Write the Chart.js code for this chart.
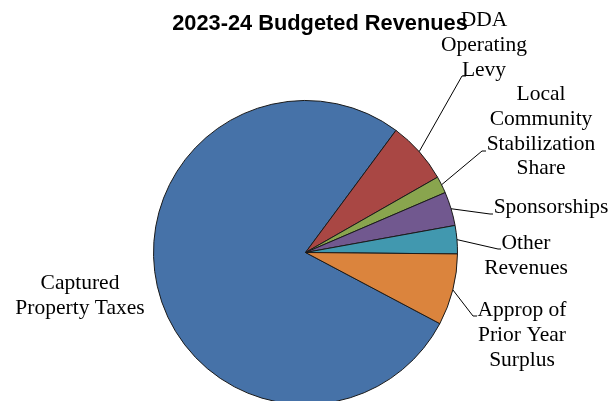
<!DOCTYPE html>
<html>
<head>
<meta charset="utf-8">
<script src="https://cdn.jsdelivr.net/npm/chart.js@4.4.1/dist/chart.umd.min.js"></script>
<style>
  html, body { margin: 0; padding: 0; background: #fff; overflow: hidden; }
  #wrap { width: 615px; height: 401px; overflow: hidden; }
</style>
</head>
<body>
<div id="wrap"><canvas id="chartPie" width="615" height="410"></canvas></div>
<script>
const TITLE = "2023-24 Budgeted Revenues";

const categories = [
  "Captured Property Taxes",
  "DDA Operating Levy",
  "Local Community Stabilization Share",
  "Sponsorships",
  "Other Revenues",
  "Approp of Prior Year Surplus",
];
// share of total (percent)
const shares = [77.4, 6.6, 1.8, 3.6, 3.0, 7.6];

const colors = ["#4672a8", "#a94744", "#89a54e", "#71588f", "#4198af", "#db843d"];

// How each category name is broken over lines, and where its label block sits.
// leader: [elbowX, elbowY, endX] - null for labels placed without a leader line.
const labelLines = [
  ["Captured", "Property Taxes"],
  ["DDA", "Operating", "Levy"],
  ["Local", "Community", "Stabilization", "Share"],
  ["Sponsorships"],
  ["Other", "Revenues"],
  ["Approp of", "Prior Year", "Surplus"],
];
const labelLayout = [
  { x: 80, y: 289, leader: null },
  { x: 484, y: 26, leader: [462, 76, 466] },
  { x: 541, y: 100, leader: [482, 151, 486] },
  { x: 551, y: 213, leader: [490, 214, 493] },
  { x: 526, y: 249, leader: [498, 249, 501] },
  { x: 522, y: 316, leader: [473, 316, 477] },
];
const LINE_H = 24.8;
const LABEL_FONT = "21.5px 'Liberation Serif', 'Times New Roman', serif";

// Title, outside labels and leader lines, drawn after the slices.
const pieLabels = {
  id: "pieLabels",
  afterDraw(chart) {
    const ctx = chart.ctx;
    const arcs = chart.getDatasetMeta(0).data;
    ctx.save();
    ctx.fillStyle = "#000";
    ctx.textAlign = "center";
    ctx.textBaseline = "alphabetic";
    ctx.font = "bold 21.8px 'Liberation Sans', Arial, sans-serif";
    ctx.fillText(TITLE, 320, 30);

    ctx.strokeStyle = "#000";
    ctx.lineWidth = 1;
    arcs.forEach((arc, i) => {
      const lay = labelLayout[i];
      if (lay.leader) {
        const mid = (arc.startAngle + arc.endAngle) / 2;
        const sx = arc.x + Math.cos(mid) * arc.outerRadius;
        const sy = arc.y + Math.sin(mid) * arc.outerRadius;
        const [ex, ey, tx] = lay.leader;
        ctx.beginPath();
        ctx.moveTo(sx, sy);
        ctx.lineTo(ex, ey);
        ctx.lineTo(tx, ey);
        ctx.stroke();
      }
      ctx.font = LABEL_FONT;
      labelLines[i].forEach((line, k) => {
        ctx.fillText(line, lay.x, lay.y + k * LINE_H);
      });
    });
    ctx.restore();
  },
};

new Chart(document.getElementById("chartPie").getContext("2d"), {
  type: "pie",
  data: {
    labels: categories,
    datasets: [{
      data: shares,
      backgroundColor: colors,
      borderColor: "#1a1a1a",
      borderWidth: 1,
      borderJoinStyle: "miter",
    }],
  },
  options: {
    responsive: false,
    animation: false,
    rotation: 117.9,
    layout: { padding: { left: 153, top: 100, right: 157, bottom: 5 } },
    plugins: {
      legend: { display: false },
      tooltip: { enabled: false },
      title: { display: false },
    },
  },
  plugins: [pieLabels],
});
</script>
</body>
</html>
